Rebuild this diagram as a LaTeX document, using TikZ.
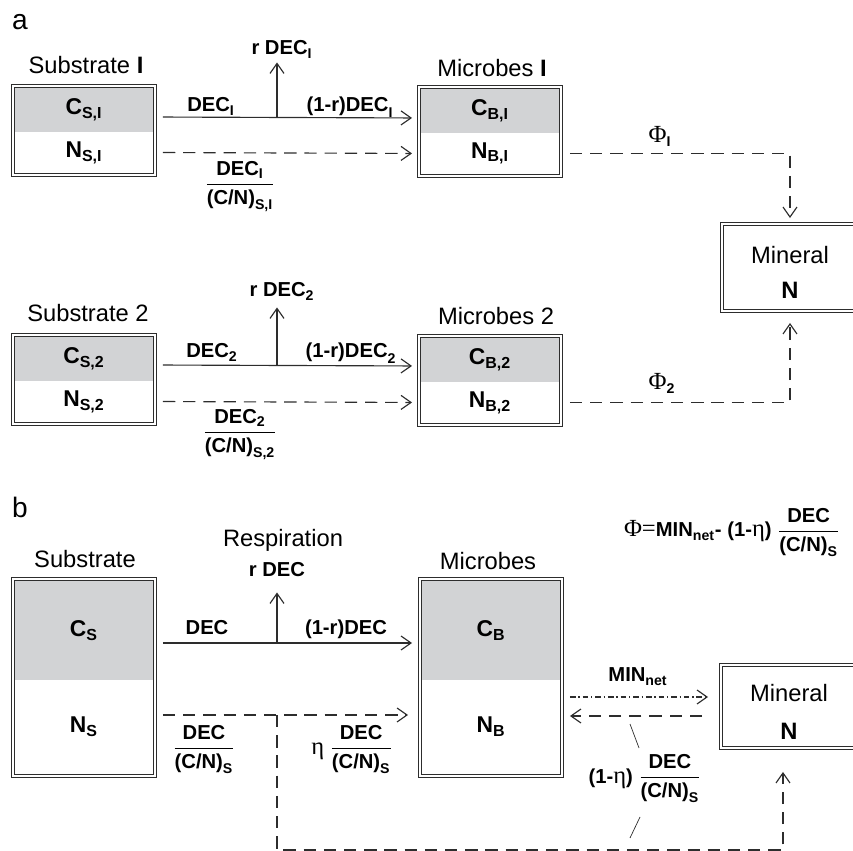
\documentclass[tikz,border=0pt]{standalone}
\usepackage{fontspec}
\usepackage{amsmath}
\setmainfont{Liberation Sans}
\newfontfamily\greekfont{Liberation Serif}
\usetikzlibrary{positioning,arrows.meta,fit}
\definecolor{poolgray}{RGB}{210,211,213}
\definecolor{inkgray}{RGB}{45,45,45}
\newcommand{\bt}[1]{\text{\bfseries #1}}
\newcommand{\bsub}[2]{$\bt{#1}_{\bt{#2}}$}
\newcommand{\cnfrac}[2]{$\dfrac{#1}{\bt{(C/N)}_{\bt{#2}}}$}
\newcommand{\grk}[1]{{\greekfont\fontsize{14}{16}\selectfont #1}}

\begin{document}
\begin{tikzpicture}[x=0.02cm, y=-0.02cm, color=inkgray, line width=0.6pt,
    every node/.style={text=black},
    pool/.style={draw, double=white, double distance=1.1pt, line width=0.55pt, inner sep=0.04cm, outer sep=0pt},
    part/.style={minimum width=2.76cm, inner sep=0pt, outer sep=0pt, font=\fontsize{13}{15}\selectfont},
    cpart/.style={part, fill=poolgray},
    title/.style={anchor=base, inner sep=1pt, font=\fontsize{13.5}{16}\selectfont},
    lbl/.style={anchor=base, inner sep=1pt, font=\fontsize{11.5}{14}\selectfont},
    flow/.style={-{Straight Barb[length=2mm,width=2.8mm]}, line width=0.65pt},
    nflow/.style={flow, dash pattern=on 7pt off 4.5pt},
    mflow/.style={flow, dash pattern=on 3.2pt off 1.6pt on 0.8pt off 1.6pt},
    leader/.style={line width=0.4pt}]
  \useasboundingbox (0,0) rectangle (853,851);

  % panel a
  \node[title, font=\fontsize{16}{18}\selectfont] (tagA) at (20,30) {a};

  \node[cpart, minimum height=0.88cm] (cSI) at (84,110) {\bsub{C}{S,I}};
  \node[part, minimum height=0.82cm, below=0pt of cSI] (nSI) {\bsub{N}{S,I}};
  \node[pool, fit=(cSI)(nSI)] (subI) {};
  \node[title] (tSI) at (86,74) {Substrate \textbf{I}};

  \node[cpart, minimum height=0.88cm] (cBI) at (490,111) {\bsub{C}{B,I}};
  \node[part, minimum height=0.82cm, below=0pt of cBI] (nBI) {\bsub{N}{B,I}};
  \node[pool, fit=(cBI)(nBI)] (micI) {};
  \node[title] (tBI) at (492,77) {Microbes \textbf{I}};

  \node[cpart, minimum height=0.88cm] (cS2) at (84,359) {\bsub{C}{S,2}};
  \node[part, minimum height=0.82cm, below=0pt of cS2] (nS2) {\bsub{N}{S,2}};
  \node[pool, fit=(cS2)(nS2)] (sub2) {};
  \node[title] (tS2) at (88,322) {Substrate 2};

  \node[cpart, minimum height=0.88cm] (cB2) at (490,360) {\bsub{C}{B,2}};
  \node[part, minimum height=0.82cm, below=0pt of cB2] (nB2) {\bsub{N}{B,2}};
  \node[pool, fit=(cB2)(nB2)] (mic2) {};
  \node[title] (tB2) at (496,325) {Microbes 2};

  \node[pool, minimum width=2.72cm, minimum height=1.74cm, align=center,
        font=\fontsize{13.5}{20}\selectfont] (minA) at (790,267.5) {\rule{0pt}{15.5pt}Mineral\\\textbf{N}};

  % substrate I -> microbes I
  \node[lbl] (decI) at (211,112) {\bsub{DEC}{I}};
  \node[lbl] (keepI) at (350,112) {\bsub{(1-r)DEC}{I}};
  \node[lbl] (respI) at (282,55) {\bsub{r DEC}{I}};
  \node[lbl] (fracI) at (240,190) {\cnfrac{\bt{DEC}_{\bt{I}}}{S,I}};
  \coordinate (splitI) at (277,117);
  \draw[flow, shorten <=0.2cm, shorten >=0.18cm] ([yshift=-0.14cm]cSI.east) -- ([yshift=-0.14cm]cBI.west);
  \draw[flow, shorten >=0.04cm] (splitI) -- (splitI |- respI.south);
  \draw[nflow, shorten <=0.2cm, shorten >=0.18cm] (nSI.east) -- (nBI.west);

  % substrate 2 -> microbes 2
  \node[lbl] (dec2) at (212,358) {\bsub{DEC}{2}};
  \node[lbl] (keep2) at (351,358) {\bsub{(1-r)DEC}{2}};
  \node[lbl] (resp2) at (282,297) {\bsub{r DEC}{2}};
  \node[lbl] (frac2) at (240,438) {\cnfrac{\bt{DEC}_{\bt{2}}}{S,2}};
  \coordinate (split2) at (277,365);
  \draw[flow, shorten <=0.2cm, shorten >=0.18cm] ([yshift=-0.12cm]cS2.east) -- ([yshift=-0.12cm]cB2.west);
  \draw[flow, shorten >=0.1cm] (split2) -- (split2 |- resp2.south);
  \draw[nflow, shorten <=0.2cm, shorten >=0.18cm] (nS2.east) -- (nB2.west);

  % microbes -> mineral
  \node[lbl] (phiI) at (660,143) {$\text{\grk{Φ}}_{\bt{I}}$};
  \node[lbl] (phi2) at (662,390) {$\text{\grk{Φ}}_{\bt{2}}$};
  \draw[nflow, shorten <=0.22cm, shorten >=0.12cm] (nBI.east) -| (minA.north);
  \draw[nflow, shorten <=0.22cm, shorten >=0.24cm] (nB2.east) -| (minA.south);

  % panel b
  \node[title, font=\fontsize{16}{18}\selectfont] (tagB) at (20,518) {b};

  \node[cpart, minimum height=1.98cm] (cS) at (84,630.5) {\bsub{C}{S}};
  \node[part, minimum height=1.88cm, below=0pt of cS] (nS) {\bsub{N}{S}};
  \node[pool, fit=(cS)(nS)] (subB) {};
  \node[title] (tS) at (85,567) {Substrate};

  \node[cpart, minimum height=1.98cm] (cB) at (491,630.5) {\bsub{C}{B}};
  \node[part, minimum height=1.88cm, below=0pt of cB] (nB) {\bsub{N}{B}};
  \node[pool, fit=(cB)(nB)] (micB) {};
  \node[title] (tB) at (488,570) {Microbes};

  \node[pool, minimum width=2.72cm, minimum height=1.66cm, align=center,
        font=\fontsize{13.5}{22}\selectfont] (minB) at (789,706.5) {\rule{0pt}{16pt}Mineral\\\textbf{N}};

  \node[lbl, font=\fontsize{11.5}{14}\selectfont] (phiB) at (732,537)
    {\grk{Φ=}\bsub{MIN}{net}\textbf{- (1-}\grk{η}\textbf{)} \cnfrac{\bt{DEC}}{S}};

  \node[title] (resp) at (283,547) {Respiration};
  \node[lbl] (rdec) at (277,577) {\textbf{r DEC}};
  \node[lbl] (dec) at (207,634) {\textbf{DEC}};
  \node[lbl] (keep) at (346,634) {\textbf{(1-r)DEC}};
  \coordinate (splitB) at (277,643);
  \draw[flow, shorten <=0.2cm, shorten >=0.2cm] ([yshift=-0.25cm]cS.east) -- ([yshift=-0.25cm]cB.west);
  \draw[flow, shorten >=0.26cm] (splitB) -- (splitB |- rdec.south);

  \node[lbl] (fracS) at (204,754) {\cnfrac{\bt{DEC}}{S}};
  \node[lbl] (fracE) at (352,754) {\grk{η} \cnfrac{\bt{DEC}}{S}};
  \coordinate (splitN) at (277,715);
  \coordinate (loopN) at (277,850);
  \draw[nflow, shorten <=0.2cm, shorten >=0.28cm] ([yshift=0.24cm]nS.east) -- ([yshift=0.24cm]nB.west);
  \draw[nflow, shorten >=0.48cm] (splitN) -- (loopN) -| ([xshift=-0.12cm]minB.south);

  % exchange microbes <-> mineral
  \node[lbl] (minnet) at (638,682) {\bsub{MIN}{net}};
  \node[lbl] (fracR) at (645,783) {\textbf{(1-}\grk{η}\textbf{)} \cnfrac{\bt{DEC}}{S}};
  \coordinate (minrow) at (640,697);
  \coordinate (backrow) at (640,716);
  \draw[mflow, shorten <=0.2cm, shorten >=0.26cm] (nB.east |- minrow) -- (minB.west |- minrow);
  \draw[nflow, shorten <=0.38cm, shorten >=0.2cm] (minB.west |- backrow) -- (nB.east |- backrow);
  \coordinate (ldA) at (630,724);
  \coordinate (ldB) at (639,748);
  \coordinate (ldC) at (640,817);
  \coordinate (ldD) at (630,838);
  \draw[leader] (ldA) -- (ldB);
  \draw[leader] (ldC) -- (ldD);
\end{tikzpicture}
\end{document}
